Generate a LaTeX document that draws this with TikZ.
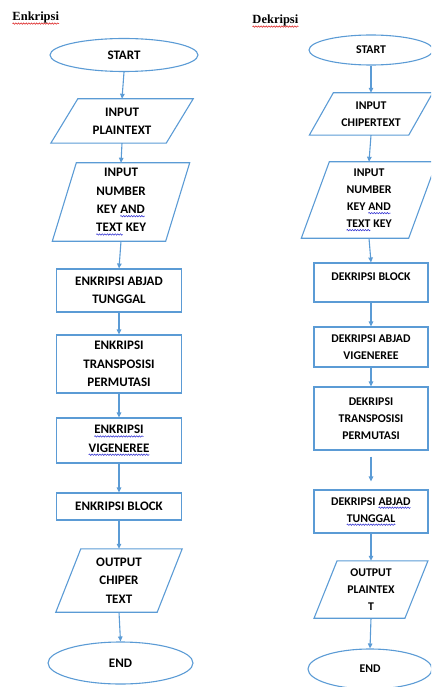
\documentclass[tikz,border=0pt]{standalone}
\usepackage{fontspec}
\setmainfont{Carlito}
\newfontfamily\titlefont{Liberation Serif}
\usetikzlibrary{shapes.geometric,arrows.meta,decorations.pathmorphing}
\definecolor{fblue}{RGB}{91,155,213}
\definecolor{wavered}{RGB}{220,30,30}
\definecolor{waveblue}{RGB}{50,50,210}
\newcommand\wavy[2]{\tikz[baseline=(w.base)]{\node[shape=rectangle, draw=none, fill=none, inner sep=0pt, outer sep=0pt, minimum width=0pt, minimum height=0pt, text depth=, text height=, align=none, anchor=base] (w) {#2};\draw[draw=#1, line width=0.55pt, decorate, decoration={snake, amplitude=0.7pt, segment length=2.6pt}] ([yshift=-2.6pt]w.base west) -- ([yshift=-2.6pt]w.base east);}}
\newcommand\redwave[1]{\wavy{wavered}{#1}}
\newcommand\bluewave[1]{\wavy{waveblue}{#1}}
\newcommand\para[2]{\draw[fl] ([xshift=#2]#1.north west) -- ([xshift=#2]#1.north east) -- ([xshift=-#2]#1.south east) -- ([xshift=-#2]#1.south west) -- cycle;}
\tikzset{
  fl/.style={draw=fblue, line width=1.1pt, line join=miter},
  lfont/.style={font=\fontsize{13}{18.3}\selectfont\bfseries},
  rfont/.style={font=\fontsize{11.8}{17}\selectfont\bfseries},
  ttl/.style={font=\titlefont\bfseries\fontsize{12.5}{14}\selectfont, inner sep=0pt},
  pbox/.style={fl, rectangle, inner sep=0pt, align=center},
  iobox/.style={rectangle, inner sep=0pt, align=center},
  ell/.style={fl, ellipse, inner sep=0pt},
  arr/.style={draw=fblue, line width=1.1pt, -{Triangle[length=5pt,width=4.5pt]}}
}
\begin{document}
\begin{tikzpicture}[x=1pt,y=-1pt]
\useasboundingbox (0,0) rectangle (431,687);
\clip (0,0) rectangle (431,687);
% ---------- left column: Enkripsi ----------
\node[ttl, anchor=base west] (t1) at (12,21) {\redwave{Enkripsi}};
\node[ell, lfont, minimum width=148pt, minimum height=33pt] (s1) at (124,55) {START};
\node[iobox, lfont, minimum width=115pt, minimum height=44pt] (p1) at (122,121) {INPUT\\PLAINTEXT};
\para{p1}{13.5pt}
\node[iobox, lfont, minimum width=113pt, minimum height=78pt] (k1) at (121,202) {INPUT\\NUMBER\\KEY \bluewave{AND}\\\bluewave{TEXT} KEY};
\para{k1}{12pt}
\node[pbox, lfont, minimum width=125pt, minimum height=43pt] (a1) at (119,290.5) {ENKRIPSI ABJAD\\TUNGGAL};
\node[pbox, lfont, minimum width=125pt, minimum height=58pt] (tr1) at (119,364) {ENKRIPSI\\TRANSPOSISI\\PERMUTASI};
\node[pbox, lfont, minimum width=125pt, minimum height=45pt] (v1) at (119,440.5) {\bluewave{ENKRIPSI}\\\bluewave{VIGENEREE}};
\node[pbox, lfont, minimum width=125pt, minimum height=27pt] (b1) at (119,506.5) {ENKRIPSI BLOCK};
\node[iobox, lfont, minimum width=101pt, minimum height=63pt] (o1) at (119,580.5) {OUTPUT\\CHIPER\\TEXT};
\para{o1}{12.5pt}
\node[ell, lfont, minimum width=145pt, minimum height=42pt] (e1) at (120.5,663) {END};
\draw[arr] (s1.south) -- (p1.north);
\draw[arr] (p1.south) -- (k1.north);
\draw[arr] (k1.south) -- (a1.north);
\draw[arr] (a1.south) -- (tr1.north);
\draw[arr] (tr1.south) -- (v1.north);
\draw[arr] (v1.south) -- (b1.north);
\draw[arr] (b1.south) -- (o1.north);
\draw[arr] (o1.south) -- (e1.north);
% ---------- right column: Dekripsi ----------
\node[ttl, anchor=base west] (t2) at (252,24) {\redwave{Dekripsi}};
\node[ell, rfont, minimum width=124pt, minimum height=30pt] (s2) at (371,50) {START};
\node[iobox, rfont, minimum width=99pt, minimum height=42pt] (p2) at (371,114) {INPUT\\CHIPERTEXT};
\para{p2}{12pt}
\node[iobox, rfont, minimum width=107pt, minimum height=76pt] (k2) at (369,200) {INPUT\\NUMBER\\KEY \bluewave{AND}\\\bluewave{TEXT} KEY};
\para{k2}{14pt}
\node[pbox, rfont, minimum width=114pt, minimum height=39pt, text depth=11pt] (b2) at (371,282.5) {DEKRIPSI BLOCK};
\node[pbox, rfont, minimum width=114pt, minimum height=40pt] (v2) at (371,347) {DEKRIPSI ABJAD\\VIGENEREE};
\node[pbox, rfont, minimum width=114pt, minimum height=63pt] (tr2) at (371,418.5) {DEKRIPSI\\TRANSPOSISI\\PERMUTASI};
\node[pbox, rfont, minimum width=114pt, minimum height=43pt] (a2) at (371,511.5) {DEKRIPSI \bluewave{ABJAD}\\\bluewave{TUNGGAL}};
\node[iobox, rfont, minimum width=90.5pt, minimum height=57pt] (o2) at (371,589.5) {OUTPUT\\PLAINTEX\\T};
\para{o2}{11.5pt}
\node[ell, rfont, minimum width=124pt, minimum height=40pt] (e2) at (370,669) {END};
\draw[arr] (s2.south) -- (p2.north);
\draw[arr] (p2.south) -- (k2.north);
\draw[arr] (k2.south) -- (b2.north);
\draw[arr] (b2.south) -- (v2.north);
\draw[arr] (v2.south) -- (tr2.north);
\draw[arr, shorten <=6pt, shorten >=8pt] (tr2.south) -- (a2.north);
\draw[arr] (a2.south) -- (o2.north);
\draw[arr] (o2.south) -- (e2.north);
\end{tikzpicture}
\end{document}
